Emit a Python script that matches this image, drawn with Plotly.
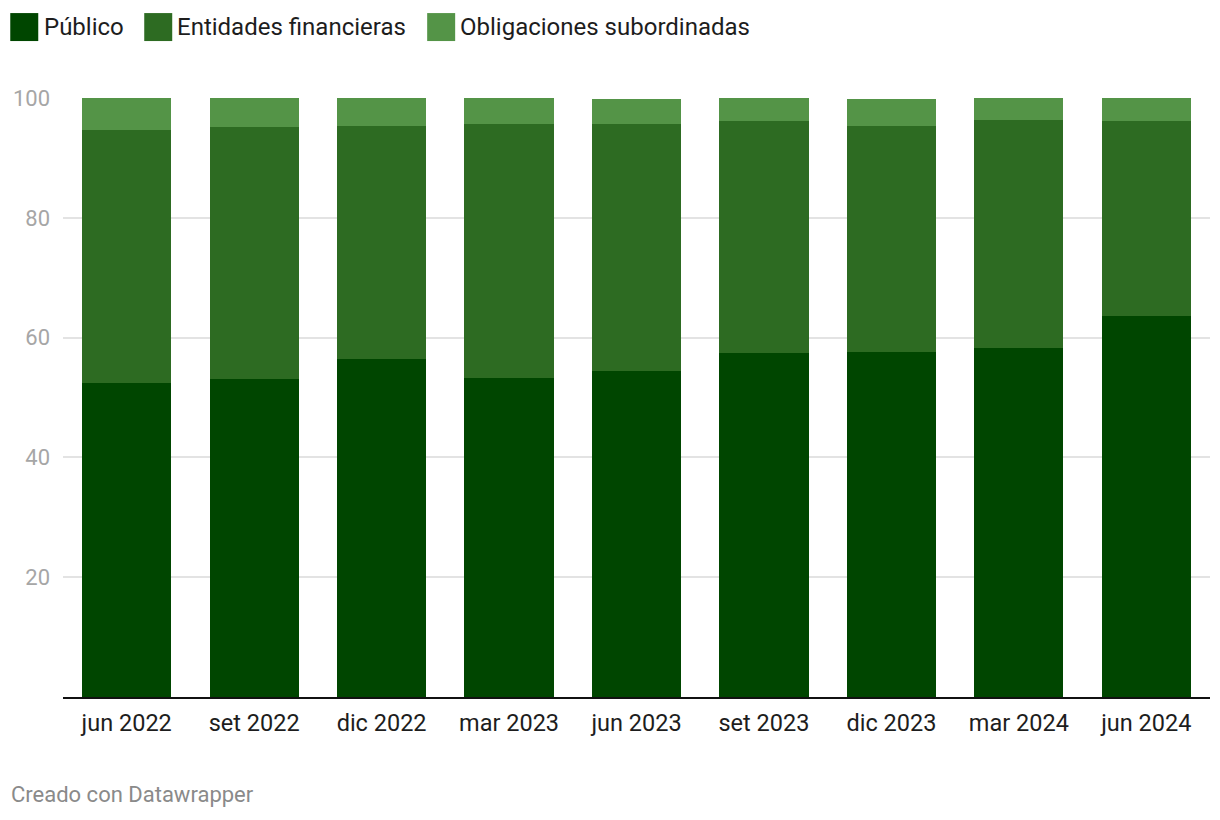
import plotly.graph_objects as go

categories = ["jun 2022", "set 2022", "dic 2022", "mar 2023", "jun 2023",
              "set 2023", "dic 2023", "mar 2024", "jun 2024"]
publico = [52.4, 53.1, 56.4, 53.3, 54.4, 57.4, 57.6, 58.3, 63.6]
entidades = [42.2, 42.0, 39.0, 42.3, 41.2, 38.7, 37.7, 38.1, 32.5]
obligaciones = [5.4, 4.9, 4.6, 4.4, 4.2, 3.9, 4.5, 3.6, 3.9]
series_names = ["Público", "Entidades financieras", "Obligaciones subordinadas"]
colors = ["#004600", "#2d6b22", "#549447"]
y_ticks = [20, 40, 60, 80, 100]

W, H = 1220, 820
L, R, T, B = 62.75, 10, 98, 122.5
pw, ph = W - L - R, H - T - B

def px_x(x):
    return (x - L) / pw

def px_y(y):
    return (H - B - y) / ph

fig = go.Figure()
for name, vals, col in zip(series_names, [publico, entidades, obligaciones], colors):
    fig.add_trace(go.Bar(x=categories, y=vals, name=name, marker_color=col,
                         marker_line_width=0, showlegend=False))

# manual legend
legend_items = [(10, 45), (144, 178), (427, 461)]
shapes = []
annotations = []
for (sx, tx), name, col in zip(legend_items, series_names, colors):
    shapes.append(dict(type="rect", xref="paper", yref="paper",
                       x0=px_x(sx), x1=px_x(sx + 28), y0=px_y(41), y1=px_y(13),
                       fillcolor=col, line_width=0))
    annotations.append(dict(text=name, xref="paper", yref="paper", x=px_x(tx - 3), y=px_y(27),
                            xanchor="left", yanchor="middle", showarrow=False,
                            font=dict(family="Roboto", size=24, color="#1d1d1d")))

annotations.append(dict(text="Creado con Datawrapper", xref="paper", yref="paper",
                        x=px_x(9), y=px_y(795), xanchor="left", yanchor="middle",
                        showarrow=False, font=dict(family="Roboto", size=22, color="#8a8a8a")))

fig.update_layout(
    barmode="stack",
    bargap=0.30,
    width=W, height=H,
    margin=dict(l=L, r=R, t=T, b=B, pad=0),
    paper_bgcolor="white", plot_bgcolor="white",
    font=dict(family="Roboto"),
    shapes=shapes,
    annotations=annotations,
    xaxis=dict(showline=True, linecolor="#111111", linewidth=2, ticks="",
               ticklabelstandoff=4,
               tickfont=dict(family="Roboto", size=23.5, color="#1d1d1d"),
               showgrid=False, fixedrange=True),
    yaxis=dict(range=[0, 100], tickvals=y_ticks, showgrid=True, gridcolor="#e3e3e3",
               gridwidth=2, zeroline=False, ticks="", ticklabelstandoff=12,
               tickfont=dict(family="Roboto", size=22, color="#a6a6a6")),
)

fig.write_html("out.html")
